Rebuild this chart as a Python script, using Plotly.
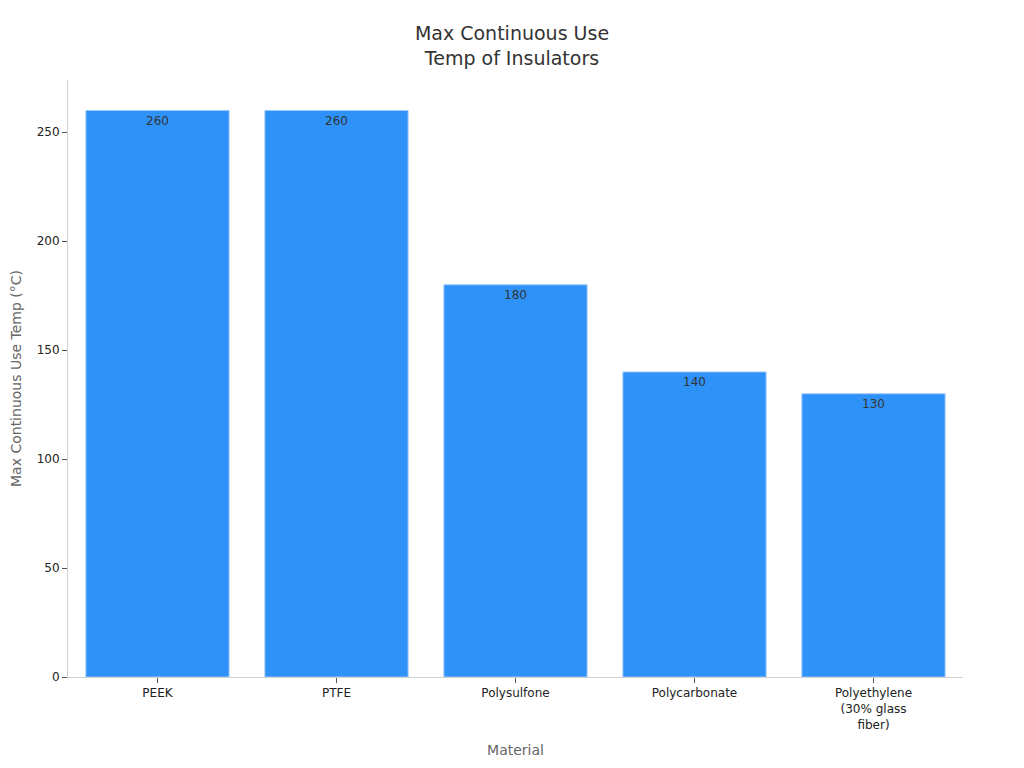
import plotly.graph_objects as go

materials = ["PEEK", "PTFE", "Polysulfone", "Polycarbonate", "Polyethylene<br>(30% glass<br>fiber)"]
max_temp = [260, 260, 180, 140, 130]

fig = go.Figure()
fig.add_trace(go.Bar(
    x=materials,
    y=max_temp,
    text=max_temp,
    textposition="inside",
    insidetextanchor="end",
    textfont=dict(size=12, color="#333333"),
    marker=dict(color="#2f92f8", line=dict(color="#9cc8fa", width=1)),
    hoverinfo="x+y",
))

fig.update_layout(
    width=1008,
    height=752,
    title=dict(
        text="Max Continuous Use<br>Temp of Insulators",
        x=0.5,
        xanchor="center",
        y=1 - 32 / 752,
        yanchor="middle",
        font=dict(family="DejaVu Sans", size=19, color="#333333"),
    ),
    font=dict(family="DejaVu Sans", size=12, color="#333333"),
    plot_bgcolor="white",
    paper_bgcolor="white",
    margin=dict(l=60, r=53, t=72, b=83),
    bargap=0.2,
    showlegend=False,
    xaxis=dict(
        title=dict(text="Material", font=dict(size=14, color="#666666"), standoff=14),
        automargin=False,
        showline=True,
        linecolor="#d0d0d0",
        ticks="outside",
        ticklen=5,
        tickcolor="#555555",
        tickfont=dict(size=12, color="#222222"),
    ),
    yaxis=dict(
        title=dict(text="Max Continuous Use Temp (°C)", font=dict(size=14, color="#666666"), standoff=14),
        automargin=False,
        range=[0, 274],
        tickvals=[0, 50, 100, 150, 200, 250],
        showline=True,
        linecolor="#d0d0d0",
        showgrid=False,
        zeroline=False,
        ticks="outside",
        ticklen=5,
        tickcolor="#555555",
        tickfont=dict(size=12, color="#222222"),
    ),
)

fig.write_html("out.html")
